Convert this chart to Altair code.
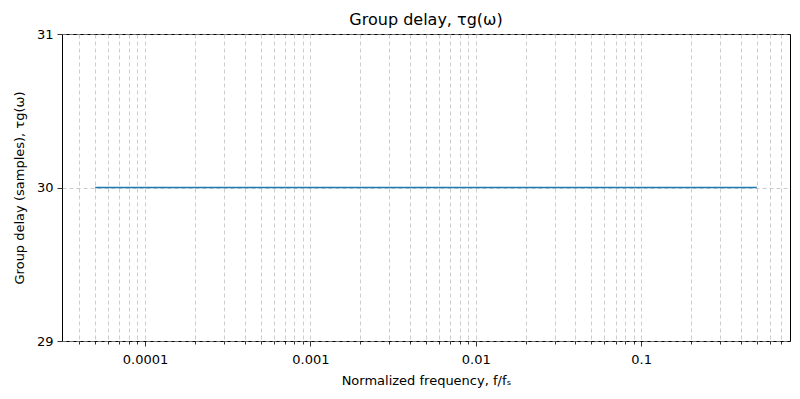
import altair as alt
import pandas as pd

# Data
freq = [5e-5, 1e-4, 1e-3, 1e-2, 1e-1, 0.5]
delay = [30.0, 30.0, 30.0, 30.0, 30.0, 30.0]

major_ticks = [1e-4, 1e-3, 1e-2, 1e-1]
major_labels = ["0.0001", "0.001", "0.01", "0.1"]
tick_values = [m * 10 ** e for e in (-5, -4, -3, -2, -1) for m in range(1, 10)]
tick_values = [v for v in tick_values if 3.5e-5 < v < 0.75]
y_ticks = [29, 30, 31]

df = pd.DataFrame({"f": freq, "d": delay})

label_expr = " : ".join(
    f"abs(datum.value - {v}) < {v * 1e-6} ? '{l}'" for v, l in zip(major_ticks, major_labels)
) + " : ''"
major_test = " || ".join(f"abs(datum.value - {v}) < {v * 1e-6}" for v in major_ticks)

font = "DejaVu Sans"

chart = alt.Chart(df).mark_line(color="#1f77b4", strokeWidth=1.5).encode(
    x=alt.X(
        "f:Q",
        scale=alt.Scale(type="log", domain=[3.15e-5, 0.794], nice=False),
        axis=alt.Axis(
            title="Normalized frequency, f/fₛ",
            values=tick_values,
            labelExpr=label_expr,
            grid=True,
            gridDash=[4, 3],
            gridColor="#b0b0b0",
            gridOpacity=0.8,
            gridWidth=0.8,
            tickSize={"condition": {"test": major_test, "value": 5}, "value": 3},
            tickColor="black",
            tickWidth=0.8,
            labelPadding=7,
            labelFontSize=13,
            labelFont=font,
            labelColor="black",
            titleFont=font,
            titleFontSize=13,
            titleFontWeight="normal",
            titleColor="black",
            titlePadding=8,
            domain=False,
            labelFlush=False,
            labelOverlap=False,
        ),
    ),
    y=alt.Y(
        "d:Q",
        scale=alt.Scale(domain=[29, 31], nice=False, zero=False),
        axis=alt.Axis(
            title="Group delay (samples), τg(ω)",
            values=y_ticks,
            labelExpr="format(datum.value, 'd')",
            grid=True,
            gridDash=[4, 3],
            gridColor="#b0b0b0",
            gridOpacity=0.8,
            gridWidth=0.8,
            tickSize=5,
            tickColor="black",
            tickWidth=0.8,
            labelPadding=4,
            labelFontSize=13,
            labelFont=font,
            labelColor="black",
            labelOverlap=False,
            titleFont=font,
            titleFontSize=13,
            titleFontWeight="normal",
            titleColor="black",
            titlePadding=10,
            domain=False,
        ),
    ),
).properties(
    width=728,
    height=307,
    title=alt.TitleParams(
        "Group delay, τg(ω)", font=font, fontSize=16, fontWeight="normal", color="black", offset=0
    ),
    padding={"left": 5, "top": 4, "right": 2, "bottom": 2},
).configure_view(stroke="black", strokeWidth=1)

chart.save("out.html", embed_options={"renderer": "svg", "actions": False})
